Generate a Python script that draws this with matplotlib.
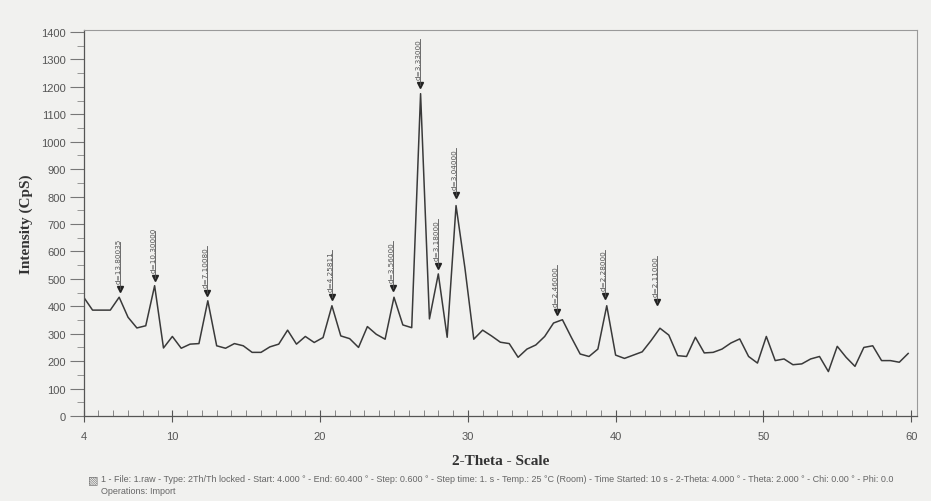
import numpy as np
import matplotlib
matplotlib.use("Agg")
import matplotlib.pyplot as plt
from matplotlib.ticker import MultipleLocator, FixedLocator

# ---- data (2-theta start 4.0, step 0.6) ----
two_theta_start = 4.0
two_theta_step = 0.6
intensity = [
    433, 386, 386, 386, 433, 360, 321, 329, 475, 248,
    290, 247, 262, 264, 420, 256, 247, 264, 256, 232,
    232, 252, 262, 313, 262, 290, 268, 286, 402, 292,
    282, 250, 326, 298, 280, 433, 332, 322, 1175, 354,
    518, 287, 767, 540, 280, 313, 292, 269, 264, 214,
    244, 259, 290, 339, 351, 287, 226, 217, 244, 402,
    222, 210, 222, 234, 275, 320, 295, 220, 217, 287,
    230, 232, 244, 266, 281, 217, 193, 290, 202, 208,
    187, 190, 208, 217, 162, 254, 214, 181, 250, 256,
    202, 202, 196, 228,
]
two_theta = [two_theta_start + two_theta_step * i for i in range(len(intensity))]

# peak labels
peak_pos = [6.45, 8.83, 12.37, 20.81, 24.95, 26.75, 28.0, 29.2, 36.02, 39.3, 42.8]
peak_arrow_y = [463, 503, 448, 434, 467, 1206, 547, 806, 380, 436, 414]
peak_text = ["d=13.80035", "d=10.30000", "d=7.10080", "d=4.25811", "d=3.56000",
             "d=3.33000", "d=3.18000", "d=3.04000", "d=2.46000", "d=2.28000", "d=2.11000"]

x_ticks = [4, 10, 20, 30, 40, 50, 60]
y_ticks = list(range(0, 1401, 100))

footer1 = ("1 - File: 1.raw - Type: 2Th/Th locked - Start: 4.000 \u00b0 - End: 60.400 \u00b0 - "
           "Step: 0.600 \u00b0 - Step time: 1. s - Temp.: 25 \u00b0C (Room) - Time Started: 10 s - "
           "2-Theta: 4.000 \u00b0 - Theta: 2.000 \u00b0 - Chi: 0.00 \u00b0 - Phi: 0.0")
footer2 = "Operations: Import"

bg = "#f1f1ef"
fig = plt.figure(figsize=(9.31, 5.02), dpi=100, facecolor=bg)
ax = fig.add_axes([0.0899, 0.1693, 0.8951, 0.7689])
ax.set_facecolor(bg)

ax.plot(two_theta, intensity, color="#3a3a3a", lw=1.1)

ax.set_xlim(4, 60.4)
ax.set_ylim(0, 1407)

# peak markers
for xp, ya, t in zip(peak_pos, peak_arrow_y, peak_text):
    ax.plot([xp], [ya], marker="v", ms=3.8, color="#222222", clip_on=False)
    ax.plot([xp, xp], [ya, ya + 170], color="#555555", lw=0.6)
    ax.text(xp - 0.1, ya + 22, t, rotation=90, ha="center", va="bottom",
            fontsize=5.2, color="#555555", family="DejaVu Sans")

# spines
for s in ["top", "right"]:
    ax.spines[s].set_color("#9a9a9a")
    ax.spines[s].set_linewidth(0.8)
for s in ["left", "bottom"]:
    ax.spines[s].set_color("#555555")
    ax.spines[s].set_linewidth(0.9)

ax.xaxis.set_major_locator(FixedLocator(x_ticks))
ax.xaxis.set_minor_locator(MultipleLocator(1))
ax.yaxis.set_major_locator(FixedLocator(y_ticks))
ax.yaxis.set_minor_locator(MultipleLocator(50))
ax.tick_params(axis="x", which="major", direction="inout", length=9, width=0.8,
               color="#555555", labelsize=8, labelcolor="#555555", pad=6)
ax.tick_params(axis="x", which="minor", direction="in", length=4, width=0.6, color="#777777")
ax.tick_params(axis="y", which="major", direction="out", length=10, width=0.8,
               color="#777777", labelsize=8, labelcolor="#555555", pad=3)
ax.tick_params(axis="y", which="minor", direction="out", length=5, width=0.6, color="#888888")
for lab in ax.get_xticklabels() + ax.get_yticklabels():
    lab.set_family("Liberation Sans")

ax.set_ylabel("Intensity (CpS)", family="Liberation Serif", fontsize=11,
              fontweight="bold", color="#333333", labelpad=6)
ax.set_xlabel("2-Theta - Scale", family="Liberation Serif", fontsize=11,
              fontweight="bold", color="#333333", labelpad=10)

fig.text(0.108, 0.044, footer1, fontsize=6.5, color="#666666", family="Liberation Sans",
         va="center")
fig.text(0.108, 0.020, footer2, fontsize=6.5, color="#666666", family="Liberation Sans",
         va="center")
fig.text(0.094, 0.044, "\u25a7", fontsize=8, color="#777777", family="DejaVu Sans",
         va="center")

fig.savefig("out.png", dpi=100, facecolor=bg)
